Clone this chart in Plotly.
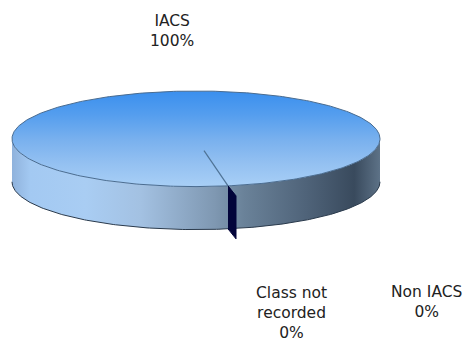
import numpy as np
import plotly.graph_objects as go

categories = ["IACS", "Class not recorded", "Non IACS"]
values = [99.6, 0.4, 0.0]
label_x = [172, 291, 426]
label_y = [31, 313, 302]
label_text = ["IACS", "Class not<br>recorded", "Non IACS"]

W, H = 467, 341
CX, CY, RX, RY, DEPTH = 196, 138.8, 184, 47.8, 43
# rim angle of the boundary of the small slice (measured from straight down, towards the right)
T0 = np.arcsin(32 / RX)


def rim(t, dy=0.0):
    return CX + RX * np.sin(t), CY + RY * np.cos(t) + dy


TOP = ["#a8cff6", "#93c0f1", "#78b0ee", "#559eee", "#3a8fee"]
SIDE = [(0, "#8fb2dc"), (0.05, "#a3c9f2"), (0.2, "#a9cdf3"), (0.35, "#a3c1e2"),
        (0.55, "#7f98b2"), (0.63, "#6a8299"), (0.8, "#4f6379"), (0.93, "#394a5d"), (1, "#5d7287")]

fig = go.Figure()

# side wall
t = np.linspace(-np.pi / 2, np.pi / 2, 240)
sx0, sy0 = rim(t)
sx1, sy1 = rim(t[::-1], DEPTH)
fig.add_trace(go.Scatter(
    x=np.r_[sx0, sx1], y=np.r_[sy0, sy1], mode="lines", fill="toself",
    line=dict(width=0),
    fillgradient=dict(type="horizontal", colorscale=SIDE),
    hoverinfo="skip", showlegend=False))

# lower edge of the side wall
fig.add_trace(go.Scatter(
    x=sx1, y=sy1, mode="lines", line=dict(color="#2a3a4c", width=1),
    hoverinfo="skip", showlegend=False))

# top
t = np.linspace(0, 2 * np.pi, 361)
tx, ty = rim(t)
fig.add_trace(go.Scatter(
    x=tx, y=ty, mode="lines", fill="toself",
    line=dict(color="#4a6c90", width=1),
    fillgradient=dict(type="vertical",
                      colorscale=[[i / (len(TOP) - 1), c] for i, c in enumerate(TOP)]),
    hoverinfo="skip", showlegend=False))

# slice boundary on the top face
ex, ey = rim(T0)
fig.add_trace(go.Scatter(
    x=[CX + (ex - CX) * 0.25, ex], y=[CY + (ey - CY) * 0.25, ey], mode="lines",
    line=dict(color="#4f7396", width=1.2), hoverinfo="skip", showlegend=False))

# cut face of the small exploded slice
OFF = (8, 10)
fig.add_trace(go.Scatter(
    x=[ex, ex + OFF[0], ex + OFF[0], ex],
    y=[ey, ey + OFF[1], ey + OFF[1] + DEPTH, ey + DEPTH],
    mode="lines", fill="toself", fillcolor="#02043a",
    line=dict(color="#02043a", width=1), hoverinfo="skip", showlegend=False))

for name, v, x, y, txt in zip(categories, values, label_x, label_y, label_text):
    fig.add_annotation(x=x, y=y, xref="x", yref="y", showarrow=False, align="center",
                       text=f"{txt}<br>{v:.0f}%", font=dict(family="DejaVu Sans", size=15.5, color="#222222"))

fig.update_layout(
    width=W, height=H, margin=dict(l=0, r=0, t=0, b=0),
    paper_bgcolor="white", plot_bgcolor="white", showlegend=False,
    xaxis=dict(range=[0, W], visible=False, fixedrange=True),
    yaxis=dict(range=[H, 0], visible=False, fixedrange=True),
)
fig.write_html("out.html", config=dict(displayModeBar=False),
               post_script="document.body.style.margin='0';document.body.style.overflow='hidden';")
